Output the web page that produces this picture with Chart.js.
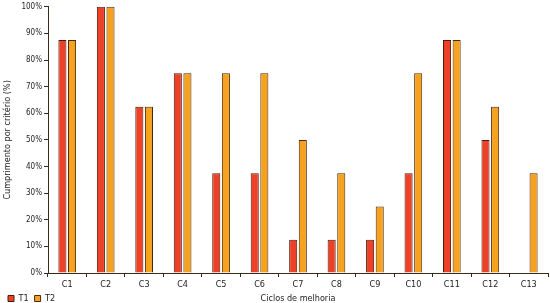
<!DOCTYPE html>
<html>
<head>
<meta charset="utf-8">
<script src="https://cdn.jsdelivr.net/npm/chart.js@4/dist/chart.umd.min.js"></script>
<style>
  html, body { margin: 0; padding: 0; background: #fff; }
  #wrap { width: 550px; height: 303px; position: relative; }
</style>
</head>
<body>
<div id="wrap"><canvas id="chart_ciclos"></canvas></div>
<script>
var categories = ['C1', 'C2', 'C3', 'C4', 'C5', 'C6', 'C7', 'C8', 'C9', 'C10', 'C11', 'C12', 'C13'];
var valuesT1 = [87.5, 100, 62.5, 75, 37.5, 37.5, 12.5, 12.5, 12.5, 37.5, 87.5, 50, 0];
var valuesT2 = [87.5, 100, 62.5, 75, 75, 75, 50, 37.5, 25, 75, 87.5, 62.5, 37.5];
var yTicks = [0, 10, 20, 30, 40, 50, 60, 70, 80, 90, 100];

var fontFamily = "'DejaVu Sans Condensed', 'DejaVu Sans', sans-serif";
var axisColor = '#3a2a1a';

var chart_ciclos = new Chart(document.getElementById('chart_ciclos'), {
    type: 'bar',
    data: {
        labels: categories,
        datasets: [
            {
                label: 'T1',
                data: valuesT1,
                backgroundColor: '#ee4026',
                borderColor: '#4a1a0a',
                borderWidth: 1,
                borderSkipped: 'bottom',
                categoryPercentage: 0.5,
                barPercentage: 0.84
            },
            {
                label: 'T2',
                data: valuesT2,
                backgroundColor: '#f7a21f',
                borderColor: '#4a2a0a',
                borderWidth: 1,
                borderSkipped: 'bottom',
                categoryPercentage: 0.5,
                barPercentage: 0.84
            }
        ]
    },
    options: {
        animation: false,
        responsive: true,
        maintainAspectRatio: false,
        // legend box carries spare room below, hence the negative bottom
        layout: { padding: { top: 4, right: 2, left: 2, bottom: -10 } },
        plugins: {
            legend: {
                position: 'bottom',
                align: 'start',
                labels: {
                    boxWidth: 6,
                    boxHeight: 6,
                    padding: 6,
                    color: '#222',
                    font: { family: fontFamily, size: 9 }
                }
            },
            tooltip: { enabled: false },
            xTitle: { text: 'Ciclos de melhoria' }
        },
        scales: {
            x: {
                offset: true,
                afterFit: function(scale) { scale.height = 15; },
                grid: {
                    offset: true,
                    drawOnChartArea: false,
                    drawTicks: true,
                    tickLength: 4,
                    color: axisColor
                },
                border: { color: axisColor, width: 1 },
                ticks: {
                    color: '#222',
                    padding: 2,
                    maxRotation: 0,
                    font: { family: fontFamily, size: 9 }
                }
            },
            y: {
                min: 0,
                max: 100,
                afterFit: function(scale) { scale.width = 46; },
                afterBuildTicks: function(axis) {
                    axis.ticks = yTicks.map(function(v) { return { value: v }; });
                },
                grid: {
                    drawOnChartArea: false,
                    drawTicks: true,
                    tickLength: 4,
                    color: axisColor
                },
                border: { color: axisColor, width: 1 },
                title: {
                    display: true,
                    text: 'Cumprimento por critério (%)',
                    color: '#222',
                    padding: { top: 0, bottom: 2 },
                    font: { family: fontFamily, size: 9 }
                },
                ticks: {
                    color: '#222',
                    padding: 2,
                    font: { family: fontFamily, size: 8 },
                    callback: function(value) { return value + '%'; }
                }
            }
        }
    },
    plugins: [{
        id: 'xTitle',
        afterDraw: function(chart, args, options) {
            var ctx = chart.ctx;
            var legend = chart.legend;
            var area = chart.chartArea;
            var item = legend.legendHitBoxes[0];
            ctx.save();
            ctx.fillStyle = '#222';
            ctx.font = '9px ' + fontFamily;
            ctx.textAlign = 'center';
            ctx.textBaseline = 'middle';
            ctx.fillText(options.text, (area.left + area.right) / 2, item.top + item.height / 2);
            ctx.restore();
        }
    }]
});
</script>
</body>
</html>
